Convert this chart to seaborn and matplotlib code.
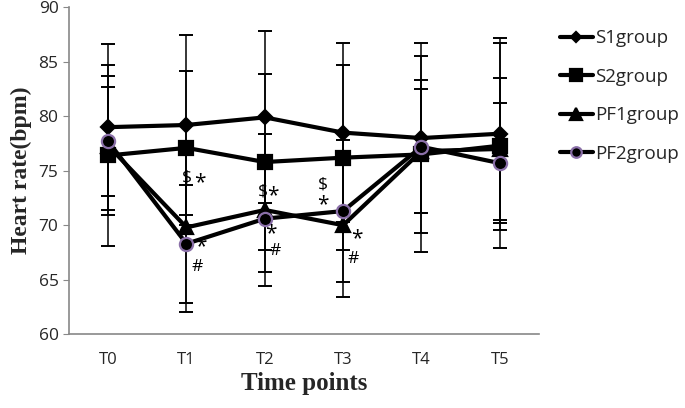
import numpy as np
import pandas as pd
import matplotlib
matplotlib.use('Agg')
import matplotlib.pyplot as plt
import seaborn as sns

# --- DATA ---
time_points = ['T0', 'T1', 'T2', 'T3', 'T4', 'T5']
groups = ['S1group', 'S2group', 'PF1group', 'PF2group']

s1_mean = [79.0, 79.2, 79.9, 78.5, 78.0, 78.4]
s2_mean = [76.4, 77.1, 75.8, 76.2, 76.5, 77.3]
pf1_mean = [77.3, 69.8, 71.4, 70.0, 76.8, 77.0]
pf2_mean = [77.7, 68.3, 70.6, 71.3, 77.2, 75.7]

s1_sd = [7.6, 8.3, 7.9, 8.2, 8.7, 8.8]
s2_sd = [8.3, 7.1, 8.1, 8.5, 9.0, 9.4]
pf1_sd = [6.4, 7.8, 7.0, 6.6, 5.7, 6.5]
pf2_sd = [5.0, 5.4, 4.9, 6.5, 6.1, 5.5]

# significance marks: x position (time index), y value, text
marks_x = [1, 1.17, 1.18, 1.14, 1.97, 2.1, 2.08, 2.13, 2.74, 2.74, 3.18, 3.13]
marks_y = [74.4, 73.9, 68.0, 66.2, 73.1, 72.7, 69.2, 67.6, 73.7, 71.9, 68.8, 66.9]
marks_t = ['$', '*', '*', '#', '$', '*', '*', '#', '$', '*', '*', '#']

means = {'S1group': s1_mean, 'S2group': s2_mean, 'PF1group': pf1_mean, 'PF2group': pf2_mean}
sds = {'S1group': s1_sd, 'S2group': s2_sd, 'PF1group': pf1_sd, 'PF2group': pf2_sd}

df = pd.DataFrame([
    {'Group': g, 'x': i, 'Time': t, 'HR': means[g][i], 'SD': sds[g][i]}
    for g in groups for i, t in enumerate(time_points)
])

# --- PLOT ---
sns.set_style('white')
plt.rcParams['font.family'] = ['Open Sans', 'DejaVu Sans']

fig = plt.figure(figsize=(6.85, 4.08), dpi=100)
ax = fig.add_axes([0.1007, 0.181, 0.686, 0.801])

# error bars behind the lines
for g in groups:
    sub = df[df['Group'] == g]
    ax.errorbar(sub['x'], sub['HR'], yerr=sub['SD'], fmt='none', ecolor='black',
                elinewidth=1.1, capsize=5, capthick=1.4, zorder=1)

markers = {'S1group': 'D', 'S2group': 's', 'PF1group': '^', 'PF2group': 'o'}
sizes = {'S1group': 7, 'S2group': 10, 'PF1group': 10, 'PF2group': 9.5}
edges = {'S1group': 'black', 'S2group': 'black', 'PF1group': 'black', 'PF2group': '#8a6fa8'}

for g in groups:
    sub = df[df['Group'] == g]
    sns.lineplot(data=sub, x='x', y='HR', ax=ax, color='black', linewidth=3,
                 marker=markers[g], markersize=sizes[g], markerfacecolor='black',
                 markeredgecolor=edges[g], markeredgewidth=1.6, zorder=3)

for x, y, t in zip(marks_x, marks_y, marks_t):
    ax.text(x, y, t, fontsize=15 if t == '*' else 12.5, ha='center', va='center',
            color='black', zorder=4)

ax.set_xlim(-0.5, 5.5)
ax.set_ylim(60, 90)
ax.set_yticks(range(60, 91, 5))
ax.set_xticks(range(6))
ax.set_xticklabels(time_points)
ax.set_xticks(np.arange(-0.5, 5.6, 1), minor=True)
ax.tick_params(axis='x', which='major', length=0, labelsize=12, pad=13)
ax.tick_params(axis='x', which='minor', length=4, color='#888888', direction='out')
ax.tick_params(axis='y', length=4, color='#888888', direction='out', labelsize=12.5, left=True)

for side in ['top', 'right']:
    ax.spines[side].set_visible(False)
for side in ['left', 'bottom']:
    ax.spines[side].set_color('#888888')
    ax.spines[side].set_linewidth(1.2)

ax.set_xlabel('Time points', family='Liberation Serif', fontweight='bold', fontsize=18, labelpad=3)
ax.set_ylabel('Heart rate(bpm)', family='Liberation Serif', fontweight='bold', fontsize=17, labelpad=5)

leg_handles = []
for g in groups:
    leg_handles.append(plt.Line2D([], [], color='black', linewidth=3, marker=markers[g],
                                  markersize=sizes[g] * 0.8, markerfacecolor='black',
                                  markeredgecolor=edges[g], markeredgewidth=1.6))
fig.legend(leg_handles, groups, loc='upper left', bbox_to_anchor=(0.793, 0.97), frameon=False,
           fontsize=13.5, handlelength=1.75, handletextpad=0.1, labelspacing=1.1)

fig.savefig('out.png', dpi=100)
